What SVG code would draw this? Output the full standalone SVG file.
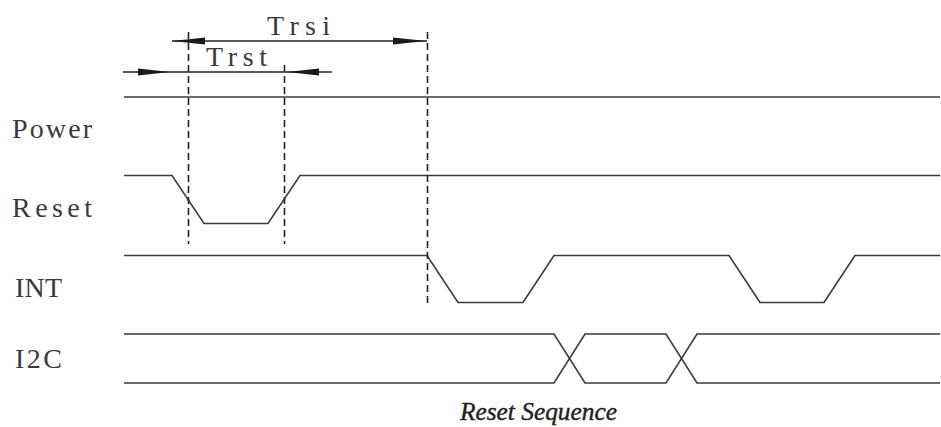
<svg xmlns="http://www.w3.org/2000/svg" width="941" height="427" viewBox="0 0 941 427">
<style>
.sig{fill:none;stroke:#3a3a3a;stroke-width:1.6;stroke-linejoin:miter}
.dash{fill:none;stroke:#222;stroke-width:1.6;stroke-dasharray:7 4}
.dim{fill:none;stroke:#222;stroke-width:1.4}
.head{fill:#1a1a1a}
.lbl{font-family:"Liberation Serif","DejaVu Serif",serif;font-size:28px;fill:#3a3a3a}
.cap{font-family:"Liberation Serif","DejaVu Serif",serif;font-style:italic;font-size:26px;fill:#222;stroke:#222;stroke-width:0.4}
</style>
<rect width="941" height="427" fill="#fff"/>
<g id="labels">
<text class="lbl" x="12" y="138" textLength="80" lengthAdjust="spacing">Power</text>
<text class="lbl" x="12" y="217" textLength="80" lengthAdjust="spacing">Reset</text>
<text class="lbl" x="15" y="297" textLength="47" lengthAdjust="spacing">INT</text>
<text class="lbl" x="15" y="368" textLength="47" lengthAdjust="spacing">I2C</text>
<text class="lbl" x="267" y="35" textLength="63" lengthAdjust="spacing">Trsi</text>
<text class="lbl" x="206" y="66" textLength="61" lengthAdjust="spacing">Trst</text>
</g>
<g id="power"><path class="sig" d="M124,97 H940"/></g>
<g id="reset"><path class="sig" d="M124,175.5 H172 L204,223.5 H268 L300,175.5 H940"/></g>
<g id="int"><path class="sig" d="M124,255.5 H427 L458,302.5 H523 L554,255.5 H729 L760,302.5 H824 L855,255.5 H940"/></g>
<g id="i2c">
<path class="sig" d="M124,334 H554 L585,383 H666 L697,334 H940"/>
<path class="sig" d="M124,383 H554 L585,334 H666 L697,383 H940"/>
</g>
<g id="connectors">
<path class="dash" d="M188.5,32 V244"/>
<path class="dash" d="M284.5,65 V244"/>
<path class="dash" d="M427.5,32 V306"/>
<path class="dim" d="M172,41 H427"/>
<path class="dim" d="M123,72 H332"/>
<polygon class="head" points="172,41 205,37.5 205,44.5"/>
<polygon class="head" points="426,41 393,37.5 393,44.5"/>
<polygon class="head" points="170,72 138,68.5 138,75.5"/>
<polygon class="head" points="287,72 319,68.5 319,75.5"/>
</g>
<text class="cap" x="460" y="420" textLength="157" lengthAdjust="spacingAndGlyphs">Reset Sequence</text>
</svg>
